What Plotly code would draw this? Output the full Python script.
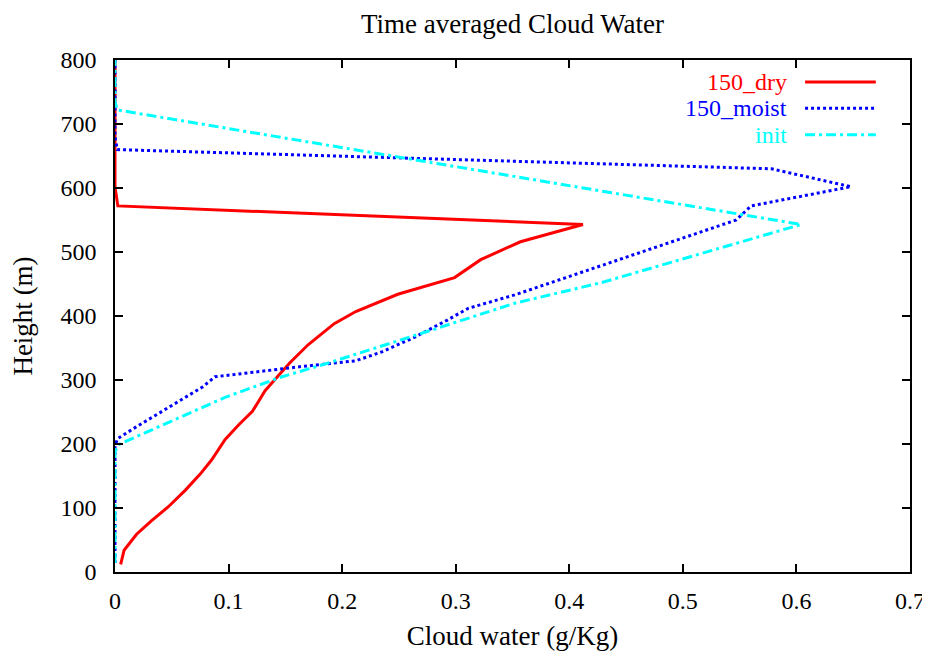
import plotly.graph_objects as go

# ---- data ----
dry_x = [0.005, 0.008, 0.019, 0.032, 0.047, 0.062, 0.075, 0.085, 0.097, 0.109, 0.121, 0.132,
         0.141, 0.154, 0.170, 0.193, 0.212, 0.249, 0.299, 0.322, 0.357, 0.412, 0.0025, 0.0, 0.0]
dry_h = [12, 34, 59, 80, 102, 128, 153, 175, 207, 230, 251, 283,
         301, 327, 355, 388, 407, 434, 460, 488, 516, 543, 572, 602, 800]

moist_x = [0.0, 0.0, 0.002, 0.018, 0.077, 0.088, 0.164, 0.212, 0.235, 0.264, 0.293, 0.311,
           0.352, 0.428, 0.547, 0.560, 0.648, 0.578, 0.002, 0.0, 0.0]
moist_h = [14, 195, 208, 226, 289, 305, 321, 330, 344, 367, 394, 412,
           433, 479, 550, 572, 602, 630, 660, 680, 800]

init_x = [0.0, 0.0, 0.003, 0.097, 0.147, 0.185, 0.270, 0.352, 0.428, 0.604, 0.002, 0.0, 0.0]
init_h = [14, 188, 199, 273, 305, 325, 373, 420, 452, 543, 722, 735, 800]

series_names = ["150_dry", "150_moist", "init"]
series_colors = ["#ff0000", "#0000ff", "#00ffff"]
series_dash = ["solid", "dot", "10px,4px,3px,4px"]

x_ticks = [0, 0.1, 0.2, 0.3, 0.4, 0.5, 0.6, 0.7]
x_ticklabels = ["0", "0.1", "0.2", "0.3", "0.4", "0.5", "0.6", "0.7"]
y_ticks = [0, 100, 200, 300, 400, 500, 600, 700, 800]

FONT = "Liberation Serif"

fig = go.Figure()
data = [(dry_x, dry_h), (moist_x, moist_h), (init_x, init_h)]
for (xs, hs), name, col, dash in zip(data, series_names, series_colors, series_dash):
    fig.add_trace(go.Scatter(x=xs, y=hs, mode="lines", name=name,
                             line=dict(color=col, width=3, dash=dash),
                             showlegend=False))

# manual gnuplot-style legend: right-aligned text, then line sample
leg_y = [0.957, 0.906, 0.854]
for name, col, dash, yy in zip(series_names, series_colors, series_dash, leg_y):
    fig.add_annotation(x=0.846, y=yy, xref="paper", yref="paper", text=name,
                       showarrow=False, xanchor="right", yanchor="middle",
                       borderpad=0,
                       font=dict(family=FONT, size=24, color=col))
    fig.add_shape(type="line", xref="paper", yref="paper",
                  x0=0.868, x1=0.957, y0=yy, y1=yy,
                  line=dict(color=col, width=3, dash=dash))

fig.update_layout(
    width=930, height=657,
    margin=dict(l=105, r=28, t=52, b=93),
    paper_bgcolor="white", plot_bgcolor="white",
    font=dict(family=FONT, size=24, color="black"),
    title=dict(text="Time averaged Cloud Water", x=0.5, xref="paper",
               y=0.977, yanchor="middle", font=dict(family=FONT, size=27)),
)
fig.update_xaxes(range=[0, 0.7], tickvals=x_ticks, ticktext=x_ticklabels,
                 ticks="inside", ticklen=8, tickwidth=1.5, tickcolor="black",
                 showline=True, linecolor="black", linewidth=1.5, mirror="ticks",
                 showgrid=False, zeroline=False, ticklabelstandoff=6,
                 title=dict(text="Cloud water (g/Kg)", font=dict(family=FONT, size=27), standoff=14),
                 tickfont=dict(family=FONT, size=24))
fig.update_yaxes(range=[0, 800], tickvals=y_ticks,
                 ticks="inside", ticklen=8, tickwidth=1.5, tickcolor="black",
                 showline=True, linecolor="black", linewidth=1.5, mirror="ticks",
                 showgrid=False, zeroline=False, ticklabelstandoff=12,
                 title=dict(text="Height (m)", font=dict(family=FONT, size=27), standoff=22),
                 tickfont=dict(family=FONT, size=24))

fig.write_html("out.html")
